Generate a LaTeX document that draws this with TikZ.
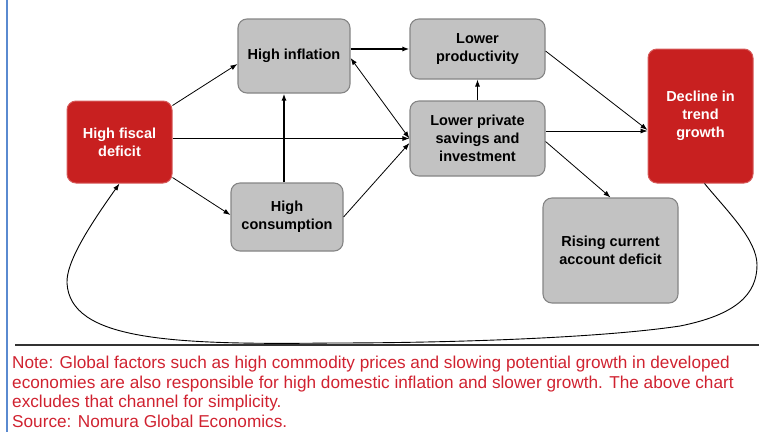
\documentclass[tikz,border=0pt]{standalone}
\usepackage{fontspec}
\setmainfont{Liberation Sans}
\usetikzlibrary{arrows.meta}

\definecolor{boxred}{HTML}{C82020}
\definecolor{boxredline}{HTML}{D65A5A}
\definecolor{boxgray}{HTML}{C2C2C2}
\definecolor{boxgrayline}{HTML}{858585}
\definecolor{notered}{HTML}{D02230}
\definecolor{sideblue}{HTML}{5A8AD0}

\tikzset{
  box/.style={rounded corners=9pt, align=center, inner sep=2pt,
    font=\bfseries\fontsize{14.5}{18}\selectfont},
  graybox/.style={box, fill=boxgray, draw=boxgrayline, line width=1.1pt, text=black},
  redbox/.style={box, fill=boxred, draw=boxredline, line width=1pt, text=white},
  link/.style={-{Latex[length=7pt,width=5pt]}, line width=0.8pt, black},
  biglink/.style={link, line width=1.3pt},
}

\begin{document}
\begin{tikzpicture}[x=1pt,y=-1pt]
\useasboundingbox (0,0) rectangle (759,432);

% frame lines
\draw[sideblue, line width=2pt] (7,0) -- (7,432);
\draw[black!80, line width=1.3pt] (15,345) -- (759,345);

% boxes
\node[redbox, minimum width=105pt, minimum height=82pt] (fiscal) at (119.5,142) {High fiscal\\deficit};
\node[graybox, minimum width=112pt, minimum height=74pt] (infl) at (294,56) {High inflation};
\node[graybox, minimum width=112pt, minimum height=68pt] (cons) at (287,217) {High\\consumption};
\node[graybox, minimum width=135pt, minimum height=60pt] (prod) at (477.5,49) {Lower\\productivity};
\node[graybox, minimum width=135pt, minimum height=75pt] (priv) at (477.5,138.5) {Lower private\\savings and\\investment};
\node[redbox, minimum width=105pt, minimum height=134pt] (decl) at (700.5,116) {Decline in\\trend\\growth};
\node[graybox, minimum width=135pt, minimum height=105pt] (cad) at (610.5,250.5) {Rising current\\account deficit};

% causal links
\draw[link] ([yshift=-5pt]fiscal.north east) -- ([yshift=-8pt]infl.west);
\draw[link] (fiscal.east |- priv.west) -- (priv.west);
\draw[link] ([yshift=6pt]fiscal.south east) -- ([yshift=2pt]cons.west);
\draw[biglink] ([xshift=-3pt]cons.north) -- ([xshift=-3pt]cons.north |- infl.south);
\draw[link] (cons.east) -- ([yshift=-4.5pt]priv.west);
\draw[link, {Latex[length=7pt,width=5pt]}-{Latex[length=7pt,width=5pt]}] ([yshift=-2pt]infl.east) -- (priv.west);
\draw[biglink] (infl.east |- prod.west) -- (prod.west);
\draw[link] (priv.north) -- (prod.south);
\draw[link] ([yshift=-2pt]prod.east) -- ([yshift=-14pt]decl.west);
\draw[link] ([yshift=7.5pt]priv.east) -- ([yshift=7.5pt]priv.east -| decl.west);
\draw[link] ([yshift=-3pt]priv.east) -- (cad.north);

% feedback loop back to the fiscal deficit
\draw[link, line width=0.9pt] ([xshift=4pt]decl.south)
  .. controls (728,212) and (757,240) .. (757,265)
  .. controls (757,295) and (735,315) .. (680,326)
  .. controls (600,338) and (450,343) .. (330,343)
  .. controls (170,345) and (70,340) .. (67,283)
  .. controls (66,262) and (90,225) .. (fiscal.south);

% note
\node[anchor=north west, align=left, text=notered, inner sep=0pt,
      font=\fontsize{17.2}{19.5}\selectfont] (note) at (12,356)
  {Note: Global factors such as high commodity prices and slowing potential growth in developed\\
   economies are also responsible for high domestic inflation and slower growth. The above chart\\
   excludes that channel for simplicity.\\
   Source: Nomura Global Economics.};
\end{tikzpicture}
\end{document}
